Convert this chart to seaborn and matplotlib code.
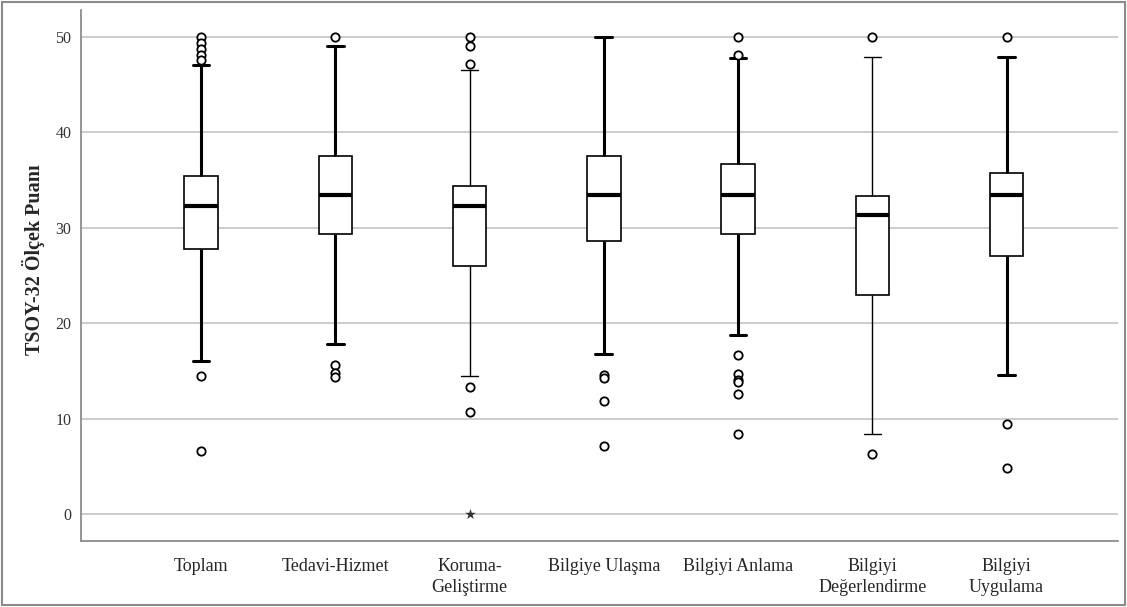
import pandas as pd
import matplotlib.pyplot as plt
import seaborn as sns

# Kategoriler ve kutu grafiği özet değerleri
kategoriler = ["Toplam", "Tedavi-Hizmet", "Koruma-\nGeliştirme", "Bilgiye Ulaşma",
               "Bilgiyi Anlama", "Bilgiyi\nDeğerlendirme", "Bilgiyi\nUygulama"]
alt_biyik = [16.0, 17.8, 14.5, 16.8, 18.8, 8.4, 14.6]
q1 = [27.8, 29.3, 26.0, 28.6, 29.3, 23.0, 27.0]
medyan = [32.3, 33.4, 32.3, 33.4, 33.4, 31.3, 33.4]
q3 = [35.4, 37.5, 34.4, 37.5, 36.7, 33.3, 35.7]
ust_biyik = [47.0, 49.0, 46.5, 50.0, 47.8, 47.9, 47.9]

# Aykırı değerler (o) ve uç değerler (*)
aykiri = {
    "Toplam": [50.0, 49.3, 48.7, 48.1, 47.6, 14.5, 6.6],
    "Tedavi-Hizmet": [50.0, 15.6, 14.8, 14.4],
    "Koruma-\nGeliştirme": [50.0, 49.0, 47.1, 13.3, 10.7],
    "Bilgiye Ulaşma": [14.6, 14.3, 11.9, 7.1],
    "Bilgiyi Anlama": [50.0, 48.1, 16.7, 14.7, 14.1, 13.8, 12.6, 8.4],
    "Bilgiyi\nDeğerlendirme": [50.0, 6.3],
    "Bilgiyi\nUygulama": [50.0, 9.5, 4.8],
}
uc_deger = {"Koruma-\nGeliştirme": [0.0]}

# Her kutu için 5 sayı özeti -> yüzdelikler tam olarak bu değerlere denk gelir
satirlar = []
for i, k in enumerate(kategoriler):
    for v in [alt_biyik[i], q1[i], medyan[i], q3[i], ust_biyik[i]]:
        satirlar.append({"Kategori": k, "Puan": v})
df = pd.DataFrame(satirlar)
df_aykiri = pd.DataFrame([{"Kategori": k, "Puan": v} for k, vs in aykiri.items() for v in vs])
df_uc = pd.DataFrame([{"Kategori": k, "Puan": v} for k, vs in uc_deger.items() for v in vs])

sns.set_style("white")
plt.rcParams["font.family"] = ["Liberation Serif", "DejaVu Serif"]

fig = plt.figure(figsize=(11.27, 6.07), dpi=100)
ax = fig.add_axes([81 / 1127, 66 / 607, (1118 - 81) / 1127, (541 - 10) / 607])

sns.boxplot(data=df, x="Kategori", y="Puan", order=kategoriler, whis=(0, 100),
            showfliers=False, width=0.25, color="white", linecolor="black",
            linewidth=1.2, medianprops=dict(linewidth=3), ax=ax)

# SPSS çıktısındaki kalın/ince bıyık çizgileri
biyik_kalinlik = [2.2, 2.2, 1.0, 2.2, 2.2, 1.0, 2.2]
kap = ax.containers[0]
for i, lw in enumerate(biyik_kalinlik):
    for cizgi in kap.whiskers[2 * i:2 * i + 2] + kap.caps[2 * i:2 * i + 2]:
        cizgi.set_linewidth(lw)

sns.stripplot(data=df_aykiri, x="Kategori", y="Puan", order=kategoriler, jitter=False,
              marker="o", size=6, color="white", edgecolor="black", linewidth=1.3,
              ax=ax, zorder=4)
sns.stripplot(data=df_uc, x="Kategori", y="Puan", order=kategoriler, jitter=False,
              marker="*", size=8, color="#333333", ax=ax, zorder=4)

ax.set_xlim(-0.894, 6.83)
ax.set_ylim(-2.8, 52.8)
ax.set_yticks([0, 10, 20, 30, 40, 50])
ax.yaxis.grid(True, color="#c8c8c8", linewidth=1.3)
ax.xaxis.grid(False)
ax.set_axisbelow(True)

for s in ["top", "right"]:
    ax.spines[s].set_visible(False)
for s in ["left", "bottom"]:
    ax.spines[s].set_color("#8c8c8c")
    ax.spines[s].set_linewidth(1.3)

ax.tick_params(axis="both", length=0)
ax.tick_params(axis="y", pad=7, labelsize=11.5, labelcolor="#333333")
ax.tick_params(axis="x", pad=12, labelsize=13)
for t in ax.get_xticklabels():
    t.set_linespacing(1.35)
ax.set_xlabel("")
ax.set_ylabel("TSOY-32 Ölçek Puanı", fontsize=14.5, fontweight="bold")
ax.yaxis.set_label_coords(-0.035, 0.529)

# Dış çerçeve
fig.add_artist(plt.Rectangle((0.002, 0.003), 0.996, 0.994, transform=fig.transFigure,
                             fill=False, edgecolor="#8a8a8a", linewidth=1.5))

fig.savefig("out.png", dpi=100)
